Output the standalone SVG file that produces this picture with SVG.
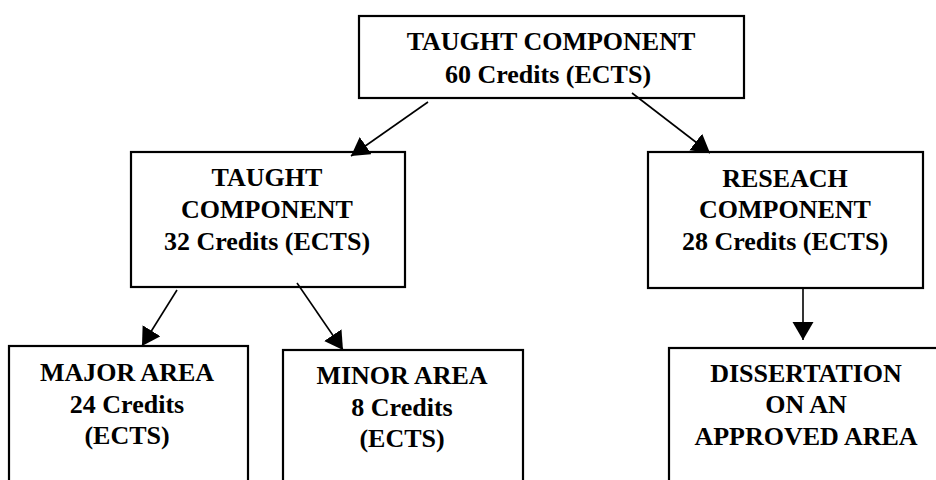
<svg xmlns="http://www.w3.org/2000/svg" width="936" height="480" viewBox="0 0 936 480">
<defs>
<style>
.box{fill:#fff;stroke:#000;stroke-width:2.2}
.t{font-family:"Liberation Serif","Times New Roman",serif;font-weight:bold;font-size:26px;fill:#000;text-anchor:middle}
.c{stroke:#000;stroke-width:1.6;fill:none;marker-end:url(#ah)}
</style>
<marker id="ah" markerUnits="userSpaceOnUse" markerWidth="20" markerHeight="22" refX="18" refY="10.5" orient="auto">
<path d="M0,0 L18,10.5 L0,21 Z" fill="#000"/>
</marker>
</defs>
<rect width="936" height="480" fill="#fff"/>
<g id="n-top">
<rect class="box" x="359" y="16" width="385" height="82"/>
<text class="t" x="551" y="50">TAUGHT COMPONENT</text>
<text class="t" x="548" y="83">60 Credits (ECTS)</text>
</g>
<g id="n-taught">
<rect class="box" x="131" y="152" width="274" height="135"/>
<text class="t" x="267" y="186">TAUGHT</text>
<text class="t" x="267" y="218">COMPONENT</text>
<text class="t" x="267" y="250">32 Credits (ECTS)</text>
</g>
<g id="n-research">
<rect class="box" x="648" y="152" width="275" height="136"/>
<text class="t" x="785" y="187">RESEACH</text>
<text class="t" x="785" y="218">COMPONENT</text>
<text class="t" x="785" y="250">28 Credits (ECTS)</text>
</g>
<g id="n-major">
<rect class="box" x="9" y="346" width="239" height="150"/>
<text class="t" x="127" y="381">MAJOR AREA</text>
<text class="t" x="127" y="413">24 Credits</text>
<text class="t" x="127" y="444">(ECTS)</text>
</g>
<g id="n-minor">
<rect class="box" x="283" y="350" width="240" height="150"/>
<text class="t" x="402" y="384">MINOR AREA</text>
<text class="t" x="402" y="416">8 Credits</text>
<text class="t" x="402" y="447">(ECTS)</text>
</g>
<g id="n-diss">
<rect class="box" x="669" y="348" width="280" height="150"/>
<text class="t" x="806" y="382">DISSERTATION</text>
<text class="t" x="806" y="413">ON AN</text>
<text class="t" x="806" y="445">APPROVED AREA</text>
</g>
<g id="connectors">
<line class="c" x1="428" y1="102" x2="351" y2="156"/>
<line class="c" x1="632" y1="93" x2="710" y2="153"/>
<line class="c" x1="177" y1="290" x2="142" y2="346"/>
<line class="c" x1="297" y1="283" x2="343" y2="350"/>
<line class="c" x1="803" y1="288" x2="803" y2="340"/>
</g>
</svg>
